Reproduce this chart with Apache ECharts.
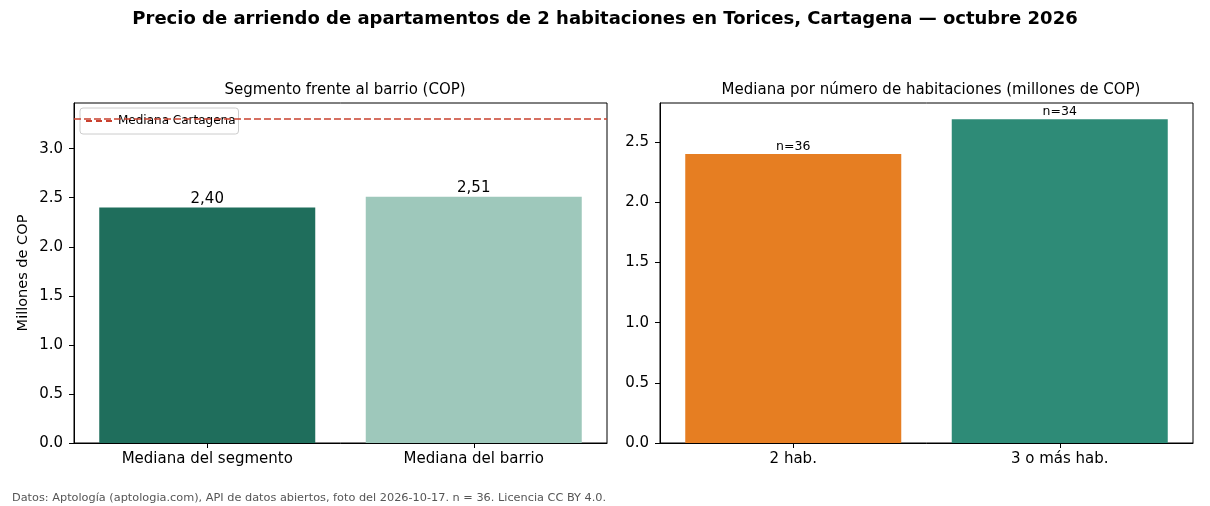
<!DOCTYPE html>
<html>
<head>
<meta charset="utf-8">
<script src="https://cdn.jsdelivr.net/npm/echarts@6/dist/echarts.min.js"></script>
<style>
  html, body { margin: 0; padding: 0; background: #fff; }
  #main { width: 1210px; height: 506px; }
</style>
</head>
<body>
<div id="main"></div>
<script>
// left panel: segment vs neighbourhood
const segCats = ['Mediana del segmento', 'Mediana del barrio'];
const segVals = [2.40, 2.51];
const segColors = ['#1f6e5c', '#9ec8bb'];
const cityMedian = 3.30;

// right panel: by bedroom count
const habCats = ['2 hab.', '3 o más hab.'];
const habVals = [2.40, 2.69];
const habN = [36, 34];
const habColors = ['#e67e22', '#2e8b77'];

const FONT = 'DejaVu Sans';
const TICK = 15;
const RED = '#c9412f';
const dashIcon = 'path://M0,0h6v2h-6z M10,0h6v2h-6z M20,0h6v2h-6z';

var myChart = echarts.init(document.getElementById('main'));

function yAxisCfg(idx, max, name){
  return {
    type: 'value', gridIndex: idx, min: 0, max: max, interval: 0.5,
    name: name, nameLocation: 'middle', nameGap: 43, nameRotate: 90,
    nameTextStyle: { fontFamily: FONT, fontSize: 14.5, color: '#000' },
    axisLine: { show: true, lineStyle: { color: '#000' } },
    axisTick: { show: true, length: 5, lineStyle: { color: '#000' } },
    axisLabel: { fontFamily: FONT, fontSize: TICK, color: '#000', margin: 11,
      formatter: v => v.toFixed(1), showMaxLabel: false },
    splitLine: { show: false }
  };
}

function xAxisCfg(idx, cats){
  return {
    type: 'category', gridIndex: idx, data: cats,
    axisLine: { show: true, lineStyle: { color: '#000' } },
    axisTick: { show: true, alignWithLabel: true, length: 5, lineStyle: { color: '#000' } },
    axisLabel: { fontFamily: FONT, fontSize: TICK, color: '#000', margin: 9 }
  };
}

var option = {
  animation: false,
  backgroundColor: '#fff',
  title: [
    { text: 'Precio de arriendo de apartamentos de 2 habitaciones en Torices, Cartagena — octubre 2026',
      left: 'center', top: 5,
      textStyle: { fontFamily: FONT, fontSize: 18, fontWeight: 'bold', color: '#000' } },
    { text: 'Segmento frente al barrio (COP)', left: 340, top: 78, textAlign: 'center',
      textStyle: { fontFamily: FONT, fontSize: TICK, fontWeight: 'normal', color: '#000' } },
    { text: 'Mediana por número de habitaciones (millones de COP)', left: 926, top: 78, textAlign: 'center',
      textStyle: { fontFamily: FONT, fontSize: TICK, fontWeight: 'normal', color: '#000' } },
    { text: 'Datos: Aptología (aptologia.com), API de datos abiertos, foto del 2026-10-17. n = 36. Licencia CC BY 4.0.',
      left: 7, top: 488,
      textStyle: { fontFamily: FONT, fontSize: 11.3, fontWeight: 'normal', color: '#555' } }
  ],
  legend: {
    data: [{ name: 'Mediana Cartagena', icon: dashIcon }],
    left: 80, top: 108, orient: 'vertical',
    itemWidth: 28, itemHeight: 2, itemGap: 4,
    padding: [7, 3, 7, 6],
    backgroundColor: 'rgba(255,255,255,0.8)',
    borderColor: '#ccc', borderWidth: 1, borderRadius: 3,
    itemStyle: { color: RED, borderWidth: 0 },
    lineStyle: { width: 0 },
    textStyle: { fontFamily: FONT, fontSize: 12, color: '#000' }
  },
  grid: [
    { left: 74, top: 103, width: 533, height: 340, show: true, borderColor: '#000', borderWidth: 1, backgroundColor: 'transparent' },
    { left: 660, top: 103, width: 533, height: 340, show: true, borderColor: '#000', borderWidth: 1, backgroundColor: 'transparent' }
  ],
  xAxis: [ xAxisCfg(0, segCats), xAxisCfg(1, habCats) ],
  yAxis: [ yAxisCfg(0, cityMedian * 1.05, 'Millones de COP'), yAxisCfg(1, Math.max(...habVals) * 1.05, '') ],
  series: [
    {
      type: 'bar', xAxisIndex: 0, yAxisIndex: 0, barWidth: 216,
      data: segVals.map((v, i) => ({ value: v, itemStyle: { color: segColors[i] } })),
      label: { show: true, position: 'top', distance: 1, fontFamily: FONT, fontSize: TICK, color: '#000',
        formatter: p => p.value.toFixed(2).replace('.', ',') }
    },
    {
      name: 'Mediana Cartagena', type: 'line', xAxisIndex: 0, yAxisIndex: 0, data: [],
      color: RED, symbol: 'none',
      markLine: {
        silent: true, symbol: 'none', label: { show: false },
        lineStyle: { color: RED, type: [7, 3], width: 1.6 },
        data: [{ yAxis: cityMedian }]
      }
    },
    {
      type: 'bar', xAxisIndex: 1, yAxisIndex: 1, barWidth: 216,
      data: habVals.map((v, i) => ({ value: v, itemStyle: { color: habColors[i] } })),
      label: { show: true, position: 'top', distance: 1, fontFamily: FONT, fontSize: 12.5, color: '#000',
        formatter: p => 'n=' + habN[p.dataIndex] }
    }
  ]
};

myChart.setOption(option);
</script>
</body>
</html>
